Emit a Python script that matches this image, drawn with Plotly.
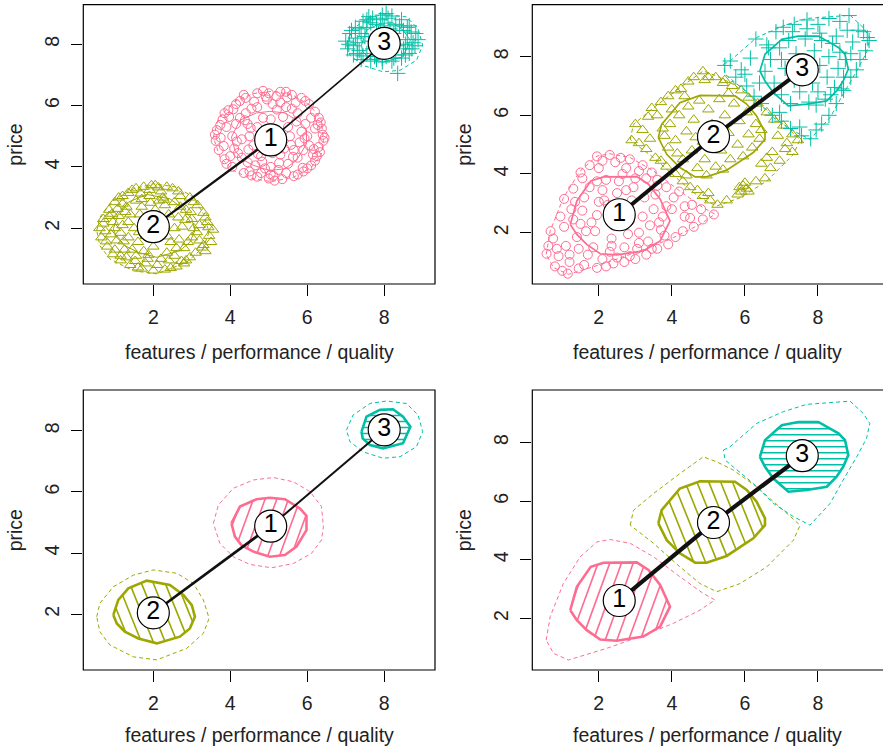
import math
import plotly.graph_objects as go

FONT = "Liberation Sans, Arial, Helvetica, sans-serif"
FS = 19.5
PINK, OLIVE, TEAL = "#FF6C91", "#9DA700", "#00BFA6"
X_TITLE = "features / performance / quality"
Y_TITLE = "price"
TICKS = [2, 4, 6, 8]
LABELS = ["1", "2", "3"]

# ---- centroids ----
sep_cx = [5.05, 2.00, 8.00]
sep_cy = [4.88, 2.05, 8.03]
ovl_cx = [2.56, 5.14, 7.57]
ovl_cy = [2.61, 5.27, 7.55]

# ---- points: well separated segments (top-left) ----
sep_pink = [(6.40,5.05),(6.35,5.45),(6.30,4.65),(6.20,5.80),(6.25,4.35),(6.05,6.05),(6.10,4.05),(5.85,6.25),
 (5.90,3.85),(5.60,6.35),(5.65,3.70),(5.30,6.45),(5.35,3.60),(5.00,6.40),(5.00,3.62),(4.70,6.40),(4.70,3.68),
 (4.40,6.25),(4.35,3.80),(4.15,6.05),(4.05,4.00),(3.95,5.85),(3.85,4.25),(3.80,5.55),(3.70,4.55),(3.65,5.20),
 (3.62,4.85),(6.42,4.85),(6.38,5.25),(5.45,6.45),(4.85,6.48),(4.55,3.72),(5.15,3.55),(6.00,3.95),(3.90,4.10),
 (6.00,5.00),(5.95,5.40),(5.90,4.55),(5.75,5.75),(5.75,4.30),(5.45,5.95),(5.50,4.10),(5.10,6.05),(5.05,4.00),
 (4.70,5.95),(4.65,4.05),(4.40,5.75),(4.30,4.30),(4.15,5.40),(4.10,4.60),(4.05,5.00),(5.85,5.15),(5.80,4.80),
 (5.30,6.10),(4.90,3.95),(4.25,5.60),(4.20,4.45),(5.60,5.90),(5.25,3.90),(4.55,5.90),(4.45,4.15),(6.10,5.60),
 (6.15,4.40),(5.50,5.30),(5.40,4.60),(4.70,5.30),(4.60,4.70),(5.05,5.55),(5.10,4.45),(5.55,5.00),(4.50,5.00),
 (4.85,5.60),(5.30,4.40),(4.80,4.35),(6.30,5.60),(6.20,4.20),(3.75,4.95),(3.85,5.75),(4.00,4.35),(5.95,6.15),
 (5.75,3.75),(4.25,6.15),(4.50,3.85),(5.20,6.30),(5.05,3.75),(6.45,4.95),(3.60,5.05),(4.95,6.20),(5.70,6.10),
 (6.20,5.25),(3.90,5.30),(4.35,6.35),(5.45,3.80),(4.80,3.80),(6.05,4.70),(4.30,4.90),(5.65,4.55),(4.45,5.40),
 (5.72,5.48),(5.63,4.33),(4.38,5.52),(4.47,4.57),(5.21,5.87),(4.83,4.17),(5.93,4.93),(4.17,4.83),(4.62,6.13),
 (6.17,4.58),(3.83,4.68),(5.88,3.97),(5.37,5.63),(4.72,4.42),(5.58,4.72),(4.53,5.27),(3.97,5.63),(6.27,5.37),
 (5.12,3.71),(4.92,6.29),(5.48,6.27),(4.08,5.88),(6.33,4.48),(3.74,5.37),(5.27,4.13)]

sep_olive = [(0.60,2.00),(0.65,1.70),(0.70,2.30),(0.80,1.40),(0.85,2.60),(0.95,1.15),(1.00,2.85),(1.15,0.95),
 (1.20,3.05),(1.40,0.80),(1.45,3.25),(1.70,0.68),(1.75,3.35),(2.00,0.62),(2.05,3.40),(2.30,0.65),(2.35,3.35),
 (2.60,0.75),(2.65,3.20),(2.85,0.95),(2.95,3.00),(3.10,1.20),(3.15,2.75),(3.30,1.45),(3.30,2.50),(3.45,1.75),
 (3.40,2.20),(3.55,1.95),(1.55,3.30),(2.50,3.30),(0.75,1.90),(1.10,3.00),(2.45,0.70),(1.60,0.72),(3.20,1.60),
 (1.00,2.00),(1.05,1.60),(1.10,2.40),(1.25,1.30),(1.30,2.70),(1.55,1.10),(1.55,2.90),(1.85,1.00),(1.90,3.05),
 (2.20,1.00),(2.25,3.00),(2.55,1.10),(2.55,2.85),(2.80,1.35),(2.85,2.60),(3.00,1.70),(3.00,2.30),(3.05,2.00),
 (1.20,2.10),(1.35,1.70),(2.75,2.05),(2.90,1.55),(1.70,2.95),(2.40,0.95),(2.70,2.70),(1.40,2.45),(1.50,2.00),
 (1.60,1.55),(1.65,2.45),(2.00,1.40),(2.05,2.60),(2.45,1.55),(2.40,2.45),(2.55,2.00),(1.45,1.30),(2.30,2.75),
 (1.80,1.75),(2.20,2.25),(0.90,1.80),(0.95,2.20),(1.30,1.05),(1.20,2.80),(1.90,3.25),(2.20,3.20),(2.80,0.85),
 (3.05,2.85),(3.35,2.35),(3.35,1.25),(2.10,0.80),(1.80,0.85),(1.00,1.30),(0.70,2.15),(2.70,3.05),(1.35,3.15),
 (3.50,1.55),(2.95,1.05),(1.15,1.85),(1.75,1.25),(2.60,1.35),(2.65,2.35),(1.35,2.20),(2.15,2.90),(1.95,3.40),
 (1.15,1.10),(0.85,2.40),(3.20,2.10),(2.35,1.20),(1.70,2.70),(1.27,2.53),(1.63,1.87),(2.83,2.27),(2.37,1.73),
 (1.93,2.83),(2.67,1.63),(1.07,2.63),(3.13,1.87),(1.53,0.93),(2.73,0.93),(0.77,1.57),(3.43,2.03),(2.13,3.33),
 (1.23,1.57),(2.97,2.53),(1.87,1.13),(2.27,2.93),(0.93,2.47),(1.67,3.13),(3.27,1.37)]

sep_teal = [(7.00,8.10),(7.05,7.85),(7.10,8.35),(7.20,7.65),(7.25,8.55),(7.40,7.50),(7.45,8.75),(7.65,7.45),
 (7.70,8.85),(7.95,7.42),(7.95,8.95),(8.20,7.45),(8.20,8.92),(8.45,7.55),(8.45,8.80),(8.65,7.70),(8.65,8.60),
 (8.80,7.95),(8.82,8.35),(8.88,8.15),(8.35,7.05),(7.55,8.80),(8.05,9.00),(7.08,8.00),(7.30,8.05),(7.35,7.80),
 (7.40,8.35),(7.55,7.70),(7.55,8.55),(7.75,7.60),(7.80,8.65),(8.05,7.60),(8.00,8.60),(8.30,7.65),(8.30,8.65),
 (8.50,7.85),(8.50,8.45),(8.60,8.15),(7.60,8.10),(7.85,8.35),(8.25,8.35),(8.35,7.95),(7.70,7.85),(8.10,7.75),
 (7.50,8.25),(8.55,8.00),(8.15,8.50),(7.90,8.80),(7.25,8.20),(7.20,7.95),(8.70,8.40),(8.72,7.85),(7.45,7.62),
 (8.40,8.60),(7.65,8.70),(8.25,7.55),(7.95,7.55),(8.60,8.55),(7.35,8.50),(7.80,7.50),(7.15,8.45),(8.75,8.05),
 (7.60,8.90),(8.10,8.85),(8.55,7.65),(7.30,7.70)]

# ---- points: overlapping segments (top-right) ----
ovl_pink = [(0.57,1.28),(0.62,1.55),(0.68,2.05),(0.75,1.80),(0.80,0.85),(0.90,1.20),(0.95,2.55),(1.05,3.15),
 (1.00,0.70),(1.15,0.60),(1.20,1.00),(1.10,1.55),(1.05,2.20),(1.25,2.80),(1.30,3.50),(1.50,4.05),(1.45,0.78),
 (1.60,0.90),(1.55,3.85),(1.75,4.30),(1.95,4.60),(2.10,4.45),(2.30,4.65),(2.45,4.40),(2.60,4.55),(2.85,4.50),
 (2.75,4.20),(3.20,4.30),(3.45,4.05),(3.10,4.10),(3.60,3.80),(3.85,3.55),(4.05,3.20),(4.20,3.40),(4.35,2.90),
 (4.55,2.95),(4.80,2.80),(5.15,2.62),(4.85,2.45),(4.60,2.20),(4.30,2.05),(4.10,1.85),(4.35,2.55),(3.90,1.60),
 (3.60,1.45),(3.30,1.25),(3.00,1.10),(2.70,1.00),(2.40,0.95),(2.20,0.85),(1.95,0.80),(2.10,1.10),(2.50,1.15),
 (2.85,1.20),(3.10,1.65),(1.40,1.85),(1.50,2.30),(1.55,2.75),(1.60,3.20),(1.75,3.55),(1.85,1.50),(1.90,2.05),
 (1.95,2.60),(2.00,3.05),(2.10,3.45),(2.20,3.80),(2.30,1.35),(2.35,1.80),(2.40,2.25),(2.45,2.95),(2.50,3.35),
 (2.55,3.75),(2.70,1.50),(2.80,1.95),(2.85,2.40),(2.90,3.10),(2.95,3.55),(3.00,3.85),(3.10,2.00),(3.20,2.55),
 (3.25,3.20),(3.35,1.70),(3.40,2.25),(3.50,2.80),(3.55,3.30),(3.70,2.10),(3.75,2.55),(3.85,2.90),(3.80,1.90),
 (1.30,2.45),(1.45,1.45),(1.70,1.25),(2.65,2.60),(3.05,1.45),(2.25,2.95),(1.80,2.35),(2.15,3.10),(3.60,3.60),
 (3.30,3.85),(2.75,3.45),(1.95,3.75),(1.65,2.05),(2.35,1.55),(3.45,1.45),(3.65,2.35),(0.85,1.45),(1.20,1.25),
 (2.00,4.20),(2.65,4.00),(1.35,3.05),(4.50,2.50),(4.00,2.80)]

ovl_olive = [(2.90,5.15),(3.00,5.70),(3.10,5.05),(3.20,5.50),(3.35,5.95),(3.45,6.25),(3.30,4.85),(3.55,4.55),
 (3.70,6.45),(3.90,6.65),(4.10,6.85),(4.25,6.90),(4.45,7.15),(4.60,7.30),(4.85,7.50),(5.00,7.30),(5.20,7.30),
 (5.40,7.10),(5.65,7.00),(5.90,6.85),(6.10,6.60),(6.35,6.40),(6.60,6.10),(6.80,5.85),(7.05,5.65),(7.30,5.35),
 (7.45,5.15),(7.30,4.75),(7.10,4.85),(6.95,4.45),(6.70,4.20),(6.55,3.85),(6.30,3.75),(6.05,3.50),(5.90,3.40),
 (5.95,3.60),(5.80,3.30),(6.10,3.40),(5.50,3.10),(5.25,2.95),(5.05,3.10),(4.85,3.25),(4.70,3.45),(4.50,3.55),
 (4.30,3.75),(4.10,4.00),(3.85,4.25),(3.70,4.45),(6.90,5.30),(7.15,5.05),(6.75,4.75),(6.45,4.35),(4.00,6.20),
 (3.60,6.00),(3.80,5.30),(3.90,4.90),(3.95,5.70),(4.10,5.15),(4.20,6.00),(4.30,4.50),(4.40,5.45),(4.45,6.30),
 (4.55,4.80),(4.60,5.85),(4.70,4.20),(4.75,6.50),(4.85,5.10),(4.90,4.50),(5.00,6.20),(5.10,5.70),(5.20,4.25),
 (5.30,6.55),(5.35,4.80),(5.45,6.00),(5.55,5.40),(5.60,4.50),(5.70,6.40),(5.80,5.00),(5.85,5.80),(5.95,4.60),
 (6.05,6.10),(6.10,5.35),(6.20,4.90),(6.30,5.70),(6.40,5.20),(6.45,5.50),(4.95,3.95),(5.40,4.15),(4.35,6.65),
 (5.55,6.75),(3.75,5.55),(4.15,4.70),(5.15,5.05),(4.65,5.25),(5.85,3.55),(6.00,3.70),(3.40,5.20),(4.90,7.20),
 (5.45,7.20),(6.60,4.55),(5.00,3.35),(4.40,3.95)]

ovl_teal = [(5.45,7.70),(5.60,7.85),(5.75,7.30),(5.90,7.55),(6.05,7.00),(6.15,7.95),(6.30,8.60),(6.25,6.65),
 (6.45,6.40),(6.60,8.40),(6.75,6.00),(6.85,8.85),(7.05,9.00),(7.00,5.80),(7.25,5.55),(7.35,9.10),(7.55,5.30),
 (7.70,9.25),(7.80,5.20),(7.95,5.50),(8.00,9.10),(8.10,5.70),(8.30,6.00),(8.30,9.30),(8.50,6.40),(8.60,9.20),
 (8.85,9.40),(8.70,6.85),(8.90,7.30),(9.05,7.55),(9.10,8.90),(9.25,8.85),(9.35,8.65),(9.30,8.20),(9.15,7.90),
 (8.95,8.50),(8.80,8.90),(9.40,8.55),(7.50,5.60),(6.00,7.40),(6.95,6.10),(6.55,7.50),(6.70,7.90),(6.80,7.10),
 (6.95,8.30),(7.00,6.70),(7.10,7.60),(7.20,8.55),(7.25,6.40),(7.35,7.20),(7.40,8.10),(7.50,6.80),(7.60,7.60),
 (7.65,8.60),(7.75,6.45),(7.85,7.10),(7.90,8.20),(8.00,6.80),(8.05,7.70),(8.10,8.55),(8.20,6.55),(8.25,7.30),
 (8.30,8.00),(8.40,8.45),(8.45,6.95),(8.55,7.60),(8.60,8.15),(8.70,7.30),(8.75,7.90),(8.65,6.90),(7.30,8.85),
 (8.05,8.80),(8.50,8.70),(6.65,8.30),(7.00,7.90),(7.95,6.35),(8.35,6.70),(6.40,7.10),(8.90,8.10),(7.70,8.95)]

# ---- segment shapes (inner solid, outer dashed) ----
sep_pink_in = [(4.03,4.97),(4.25,5.52),(4.68,5.76),(5.03,5.81),(5.42,5.76),(5.81,5.46),(5.98,5.22),(5.98,4.75),
 (5.72,4.21),(5.42,3.94),(5.03,3.88),(4.60,4.05),(4.29,4.26),(4.12,4.54)]
sep_pink_out = [(3.56,4.97),(3.69,5.57),(4.08,6.12),(4.60,6.39),(5.12,6.47),(5.64,6.33),(6.07,6.01),(6.37,5.52),
 (6.42,4.86),(6.37,4.43),(6.11,3.99),(5.64,3.66),(5.07,3.52),(4.51,3.63),(4.08,3.88),(3.73,4.32)]
sep_olive_in = [(0.96,1.98),(1.09,2.47),(1.35,2.85),(1.83,3.10),(2.43,2.96),(2.78,2.63),(3.00,2.30),(3.08,1.92),
 (2.95,1.54),(2.69,1.27),(2.09,1.05),(1.61,1.21),(1.26,1.43),(1.05,1.70)]
sep_olive_out = [(0.53,1.92),(0.61,2.36),(0.96,2.90),(1.48,3.28),(2.00,3.45),(2.61,3.34),(3.04,3.01),(3.30,2.47),
 (3.45,1.87),(3.30,1.38),(2.87,0.89),(2.09,0.51),(1.48,0.61),(0.87,1.00),(0.61,1.43)]
sep_teal_in = [(7.41,7.97),(7.54,8.46),(7.89,8.68),(8.23,8.70),(8.49,8.46),(8.68,8.13),(8.49,7.59),(7.97,7.42),
 (7.63,7.53),(7.44,7.75)]
sep_teal_out = [(7.02,8.02),(7.19,8.51),(7.63,8.89),(8.06,8.97),(8.58,8.89),(8.88,8.51),(9.00,7.97),(8.84,7.48),
 (8.41,7.15),(7.97,7.10),(7.45,7.31),(7.11,7.64)]

ovl_pink_in = [(1.22,2.28),(1.40,3.08),(1.78,3.76),(2.13,3.90),(3.04,3.91),(3.36,3.65),(3.68,3.14),(3.95,2.40),
 (3.68,1.72),(3.22,1.38),(2.49,1.24),(2.04,1.28),(1.67,1.60),(1.40,1.94)]
ovl_pink_out = [(0.56,1.26),(0.67,2.06),(1.03,3.19),(1.49,4.10),(1.95,4.61),(2.31,4.69),(2.86,4.56),(3.50,4.10),
 (4.22,3.42),(4.86,2.85),(5.18,2.63),(4.77,2.28),(4.04,1.83),(3.13,1.38),(2.22,0.98),(1.58,0.75),(1.17,0.58),(0.76,0.81)]
ovl_olive_in = [(3.63,5.24),(3.72,5.69),(4.22,6.43),(4.77,6.68),(5.73,6.66),(6.05,6.38),(6.32,5.98),(6.55,5.41),
 (6.55,5.18),(6.23,4.73),(5.50,4.13),(4.95,3.90),(4.64,3.90),(4.22,4.22),(3.86,4.67)]
ovl_olive_out = [(2.86,5.18),(2.95,5.69),(3.50,6.26),(4.22,6.94),(4.86,7.51),(5.23,7.34),(5.68,7.06),(6.32,6.49),
 (7.05,5.69),(7.51,5.18),(7.33,4.67),(6.60,3.76),(5.87,3.19),(5.23,2.91),(4.77,3.19),(4.22,3.76),(3.50,4.56),(3.13,4.90)]
ovl_teal_in = [(6.41,7.51),(6.55,8.08),(7.01,8.59),(7.46,8.70),(8.01,8.70),(8.56,8.31),(8.74,8.08),(8.83,7.57),
 (8.69,7.17),(8.51,6.83),(8.24,6.49),(7.69,6.38),(7.19,6.32),(6.78,6.77),(6.55,7.17)]
ovl_teal_out = [(5.41,7.74),(5.59,7.85),(6.32,8.65),(7.05,9.05),(7.69,9.30),(8.42,9.36),(8.88,9.41),(9.24,8.99),
 (9.42,8.65),(9.33,8.14),(9.06,7.51),(8.74,6.83),(8.33,5.92),(7.78,5.18),(7.33,5.47),(6.78,5.92),(6.23,6.60),
 (5.68,7.17),(5.46,7.40)]

W, H = 883, 747
COLORS = [PINK, OLIVE, TEAL]
SYMBOLS = ["circle-open", "triangle-up-open", "cross-thin-open"]
HATCH_ANGLE = [70, 112, 0]      # degrees, in screen space
HATCH_GAP = [11.0, 11.0, 6.0]   # pixels between hatch lines

# panel geometry (pixels) and ranges
panels = [
    dict(ax="", px=(83.3, 435.0), py=(4.7, 284.0), xr=(0.18, 9.32), yr=(0.18, 9.29), right=False, tt=67.5),
    dict(ax="2", px=(532.3, 883.0), py=(4.7, 284.0), xr=(0.18, 9.78), yr=(0.25, 9.77), right=True, tt=67.5),
    dict(ax="3", px=(83.3, 435.0), py=(390.0, 670.0), xr=(0.18, 9.32), yr=(0.18, 9.33), right=False, tt=64.5),
    dict(ax="4", px=(532.3, 883.0), py=(390.0, 670.0), xr=(0.18, 9.78), yr=(0.24, 9.79), right=True, tt=64.5),
]
PANEL = {p["ax"]: p for p in panels}

fig = go.Figure()
layout = dict(width=W, height=H, margin=dict(l=0, r=0, t=0, b=0, pad=0, autoexpand=False),
              paper_bgcolor="white", template="none",
              plot_bgcolor="white", showlegend=False, font=dict(family=FONT, size=FS, color="black"))
shapes, annotations = [], []

for p in panels:
    a = p["ax"]
    xd = [p["px"][0] / W, p["px"][1] / W]
    yd = [1 - p["py"][1] / H, 1 - p["py"][0] / H]
    common = dict(showgrid=False, zeroline=False, showline=False, ticks="outside", ticklen=11,
                  tickwidth=1, tickcolor="black", tickvals=TICKS, automargin=False,
                  tickfont=dict(family=FONT, size=FS, color="#222"))
    layout["xaxis" + a] = dict(domain=xd, range=list(p["xr"]), anchor="y" + a, ticklabelstandoff=5, **common)
    layout["yaxis" + a] = dict(domain=yd, range=list(p["yr"]), anchor="x" + a, tickangle=-90,
                               ticklabelstandoff=5, **common)
    shapes.append(dict(type="rect", xref=f"x{a} domain", yref=f"y{a} domain", x0=0, x1=1.03 if p["right"] else 1,
                       y0=0, y1=1, line=dict(color="black", width=1.2), layer="above"))
    cx = (p["px"][0] + p["px"][1]) / 2
    cy = (p["py"][0] + p["py"][1]) / 2
    annotations.append(dict(text=X_TITLE, xref="paper", yref="paper", x=cx / W, y=1 - (p["py"][1] + p["tt"]) / H,
                            showarrow=False, xanchor="center", yanchor="middle", font=dict(size=FS, color="#222")))
    annotations.append(dict(text=Y_TITLE, xref="paper", yref="paper", x=(p["px"][0] - 68) / W, y=1 - cy / H,
                            showarrow=False, textangle=-90, xanchor="center", yanchor="middle",
                            font=dict(size=FS, color="#222")))


def unzip(pts, close=False):
    xs = [q[0] for q in pts]
    ys = [q[1] for q in pts]
    if close:
        xs.append(xs[0]); ys.append(ys[0])
    return xs, ys


def hatch_lines(pts, a, angle, gap):
    """Clip parallel screen-space lines to the polygon; return data coords with None breaks."""
    p = PANEL[a]
    sx = (p["px"][1] - p["px"][0]) / (p["xr"][1] - p["xr"][0])
    sy = (p["py"][1] - p["py"][0]) / (p["yr"][1] - p["yr"][0])
    P = [(x * sx, y * sy) for x, y in pts]
    t = math.radians(angle)
    ux, uy = math.cos(t), math.sin(t)
    nx, ny = -uy, ux
    proj = [nx * X + ny * Y for X, Y in P]
    lo, hi = min(proj), max(proj)
    xs, ys = [], []
    c = lo + gap * 0.5
    n = len(P)
    while c < hi:
        hits = []
        for i in range(n):
            A, B = P[i], P[(i + 1) % n]
            fa, fb = proj[i] - c, proj[(i + 1) % n] - c
            if (fa < 0) != (fb < 0):
                s = fa / (fa - fb)
                hx, hy = A[0] + s * (B[0] - A[0]), A[1] + s * (B[1] - A[1])
                hits.append((ux * hx + uy * hy, hx, hy))
        hits.sort()
        for k in range(0, len(hits) - 1, 2):
            for _, hx, hy in (hits[k], hits[k + 1]):
                xs.append(hx / sx); ys.append(hy / sy)
            xs.append(None); ys.append(None)
        c += gap
    return xs, ys


def add_points(a, sets, size_list):
    for pts, col, sym, sz in zip(sets, COLORS, SYMBOLS, size_list):
        xs, ys = unzip(pts)
        fig.add_trace(go.Scatter(x=xs, y=ys, mode="markers", xaxis="x" + a, yaxis="y" + a,
                                 marker=dict(symbol=sym, size=sz, color=col, line=dict(width=1, color=col))))


def add_shapes(a, inners, outers, in_w, hatch):
    for k, (pin, pout, col) in enumerate(zip(inners, outers, COLORS)):
        xs, ys = unzip(pout, close=True)
        fig.add_trace(go.Scatter(x=xs, y=ys, mode="lines", xaxis="x" + a, yaxis="y" + a,
                                 line=dict(color=col, width=1, dash="4px,3px")))
        if hatch:
            hx, hy = hatch_lines(pin, a, HATCH_ANGLE[k], HATCH_GAP[k])
            fig.add_trace(go.Scatter(x=hx, y=hy, mode="lines", xaxis="x" + a, yaxis="y" + a,
                                     line=dict(color=col, width=1.6)))
        xs, ys = unzip(pin, close=True)
        fig.add_trace(go.Scatter(x=xs, y=ys, mode="lines", xaxis="x" + a, yaxis="y" + a,
                                 line=dict(color=col, width=in_w)))


def add_centroids(a, cx, cy, order, widths):
    for (i, j), w in zip(order, widths):
        fig.add_trace(go.Scatter(x=[cx[i], cx[j]], y=[cy[i], cy[j]], mode="lines", xaxis="x" + a, yaxis="y" + a,
                                 line=dict(color="#111", width=w)))
    fig.add_trace(go.Scatter(x=cx, y=cy, mode="markers+text", text=LABELS, xaxis="x" + a, yaxis="y" + a,
                             textposition="middle center", textfont=dict(family=FONT, size=25, color="black"),
                             marker=dict(size=32, color="white", line=dict(color="black", width=1.2))))


# top-left: separated segments with points (shapes underneath)
add_shapes("", [sep_pink_in, sep_olive_in, sep_teal_in], [sep_pink_out, sep_olive_out, sep_teal_out], 1.0, False)
add_points("", [sep_pink, sep_olive, sep_teal], [9, 10, 11])
add_centroids("", sep_cx, sep_cy, [(1, 0), (0, 2)], [2.3, 1.6])

# top-right: overlapping segments with points
add_points("2", [ovl_pink, ovl_olive, ovl_teal], [9, 10, 11])
add_shapes("2", [ovl_pink_in, ovl_olive_in, ovl_teal_in], [ovl_pink_out, ovl_olive_out, ovl_teal_out], 1.7, False)
add_centroids("2", ovl_cx, ovl_cy, [(0, 1), (1, 2)], [4, 4])

# bottom-left: separated segments, shaded
add_shapes("3", [sep_pink_in, sep_olive_in, sep_teal_in], [sep_pink_out, sep_olive_out, sep_teal_out], 2.6, True)
add_centroids("3", sep_cx, sep_cy, [(1, 0), (0, 2)], [2.7, 2.0])

# bottom-right: overlapping segments, shaded
add_shapes("4", [ovl_pink_in, ovl_olive_in, ovl_teal_in], [ovl_pink_out, ovl_olive_out, ovl_teal_out], 2.6, True)
add_centroids("4", ovl_cx, ovl_cy, [(0, 1), (1, 2)], [4.2, 4.2])

layout["shapes"] = shapes
layout["annotations"] = annotations
fig.update_layout(**layout)
fig.write_html("out.html", config={"displayModeBar": False},
               post_script="document.body.style.margin='0px';document.body.style.padding='0px';")
